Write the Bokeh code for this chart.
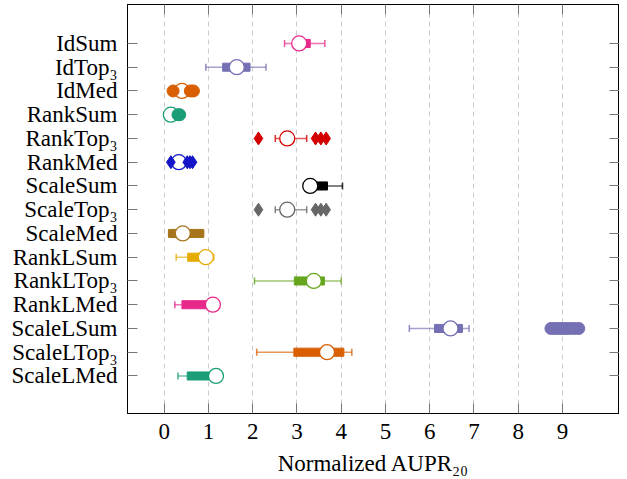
from bokeh.plotting import figure
from bokeh.models import ColumnDataSource, Range1d, FixedTicker, LinearAxis
from bokeh.embed import file_html
from bokeh.resources import INLINE
import math

# ---------------- data ----------------
categories = ["IdSum", "IdTop₃", "IdMed", "RankSum", "RankTop₃", "RankMed",
              "ScaleSum", "ScaleTop₃", "ScaleMed", "RankLSum", "RankLTop₃",
              "RankLMed", "ScaleLSum", "ScaleLTop₃", "ScaleLMed"]
whisker_low = [2.72, 0.94, 0.36, 0.12, 2.51, 0.28, 3.25, 2.51, 0.10, 0.27, 2.04, 0.24, 5.54, 2.09, 0.31]
q1 =          [3.12, 1.32, 0.38, 0.13, 2.68, 0.30, 3.35, 2.68, 0.10, 0.53, 2.94, 0.40, 6.11, 2.93, 0.52]
q3 =          [3.30, 1.94, 0.44, 0.18, 2.90, 0.36, 3.69, 2.90, 0.89, 0.98, 3.62, 1.08, 6.74, 4.06, 1.22]
whisker_high = [3.63, 2.30, 0.46, 0.20, 3.22, 0.38, 4.03, 3.22, 0.89, 1.12, 4.00, 1.12, 6.89, 4.24, 1.30]
center =      [3.05, 1.64, 0.40, 0.15, 2.78, 0.33, 3.30, 2.78, 0.42, 0.94, 3.38, 1.10, 6.47, 3.68, 1.17]
colors = ["#e7298a", "#7570b3", "#d95f02", "#1b9e77", "#d40000", "#1414c8",
          "#000000", "#666666", "#a6761d", "#e6ab02", "#66a61e",
          "#e7298a", "#7570b3", "#d95f02", "#1b9e77"]

# outliers: (category, x value)
outlier_circle_cat = ["IdMed", "IdMed", "IdMed", "RankSum", "RankSum",
                      "ScaleLSum", "ScaleLSum", "ScaleLSum", "ScaleLSum",
                      "ScaleLSum", "ScaleLSum", "ScaleLSum", "ScaleLSum"]
outlier_circle_x = [0.20, 0.59, 0.66, 0.31, 0.35,
                    8.74, 8.83, 8.92, 9.0, 9.08, 9.17, 9.27, 9.37]
outlier_diamond_cat = ["RankTop₃", "RankTop₃", "RankTop₃", "RankTop₃",
                       "RankMed", "RankMed", "RankMed", "RankMed",
                       "ScaleTop₃", "ScaleTop₃", "ScaleTop₃", "ScaleTop₃"]
outlier_diamond_x = [2.13, 3.42, 3.54, 3.66,
                     0.15, 0.52, 0.58, 0.64,
                     2.13, 3.42, 3.54, 3.66]

x_ticks = [0, 1, 2, 3, 4, 5, 6, 7, 8, 9]

# ---------------- build ----------------
n = len(categories)
ypos = {c: n - i for i, c in enumerate(categories)}
ys = [ypos[c] for c in categories]

src = ColumnDataSource(dict(y=ys, lw=whisker_low, q1=q1, q3=q3, hw=whisker_high,
                            c=center, color=colors))
col_of = dict(zip(categories, colors))
oc_src = ColumnDataSource(dict(x=outlier_circle_x, y=[ypos[c] for c in outlier_circle_cat],
                               color=[col_of[c] for c in outlier_circle_cat]))
od_src = ColumnDataSource(dict(x=outlier_diamond_x, y=[ypos[c] for c in outlier_diamond_cat],
                               color=[col_of[c] for c in outlier_diamond_cat]))

FONT = "Liberation Serif"
FS = "23px"

p = figure(frame_width=492, frame_height=409, output_backend="svg", toolbar_location=None,
           x_range=Range1d(-0.83, 10.29), y_range=Range1d(-0.58, 16.64),
           min_border_left=127, min_border_top=4, min_border_right=0, min_border_bottom=0,
           x_axis_label="Normalized AUPR₂₀")

p.background_fill_color = "white"
p.border_fill_color = "white"
p.outline_line_color = "black"
p.outline_line_width = 1

# grid
p.ygrid.grid_line_color = None
p.xgrid.ticker = FixedTicker(ticks=x_ticks)
p.xgrid.grid_line_color = "#cccccc"
p.xgrid.grid_line_dash = "5 4"
p.xgrid.grid_line_width = 1

# whiskers
p.segment(x0="lw", x1="hw", y0="y", y1="y", source=src, line_color="color",
          line_alpha=0.65, line_width=1.5)
p.scatter(x="lw", y="y", source=src, marker="dash", angle=math.pi / 2, size=7,
          line_color="color", line_alpha=0.8, line_width=1.5)
p.scatter(x="hw", y="y", source=src, marker="dash", angle=math.pi / 2, size=7,
          line_color="color", line_alpha=0.8, line_width=1.5)
# boxes
p.hbar(y="y", left="q1", right="q3", height=0.34, source=src, fill_color="color",
       line_color="color", line_width=1)
# center circles
p.scatter(x="c", y="y", source=src, marker="circle", size=15, fill_color="white",
          line_color="color", line_width=1.3)
# outliers
p.scatter(x="x", y="y", source=oc_src, marker="circle", size=12, fill_color="color",
          line_color="color", line_width=1)
p.scatter(x="x", y="y", source=od_src, marker="diamond", size=13, fill_color="color",
          line_color="color", line_width=1)

# axes
xa = p.xaxis[0]
xa.ticker = FixedTicker(ticks=x_ticks)
ya = p.yaxis[0]
ya.ticker = FixedTicker(ticks=ys)
ya.major_label_overrides = {y: c for y, c in zip(ys, categories)}

for ax in (xa, ya):
    ax.major_tick_in = 10
    ax.major_tick_out = 0
    ax.minor_tick_line_color = None
    ax.major_tick_line_color = "#777777"
    ax.axis_line_color = "black"
    ax.major_label_text_font = FONT
    ax.major_label_text_font_size = FS
    ax.major_label_text_font_style = "normal"
    ax.major_label_text_color = "black"
    ax.major_label_standoff = 10

xa.axis_label_text_font = FONT
xa.axis_label_text_font_size = FS
xa.axis_label_text_font_style = "normal"
xa.axis_label_text_color = "black"
xa.axis_label_standoff = 9

top = LinearAxis(ticker=FixedTicker(ticks=x_ticks),
                 major_label_overrides={t: "" for t in x_ticks},
                 major_label_text_font_size="1px",
                 major_tick_in=10, major_tick_out=0, minor_tick_line_color=None,
                 major_tick_line_color="#777777", axis_line_color="black",
                 major_label_standoff=0)
right = LinearAxis(ticker=FixedTicker(ticks=ys),
                   major_label_overrides={t: "" for t in ys},
                   major_label_text_font_size="1px",
                   major_tick_in=10, major_tick_out=0, minor_tick_line_color=None,
                   major_tick_line_color="#777777", axis_line_color="black",
                   major_label_standoff=0)
p.add_layout(top, "above")
p.add_layout(right, "right")

open("out.html", "w").write(file_html(p, INLINE))
